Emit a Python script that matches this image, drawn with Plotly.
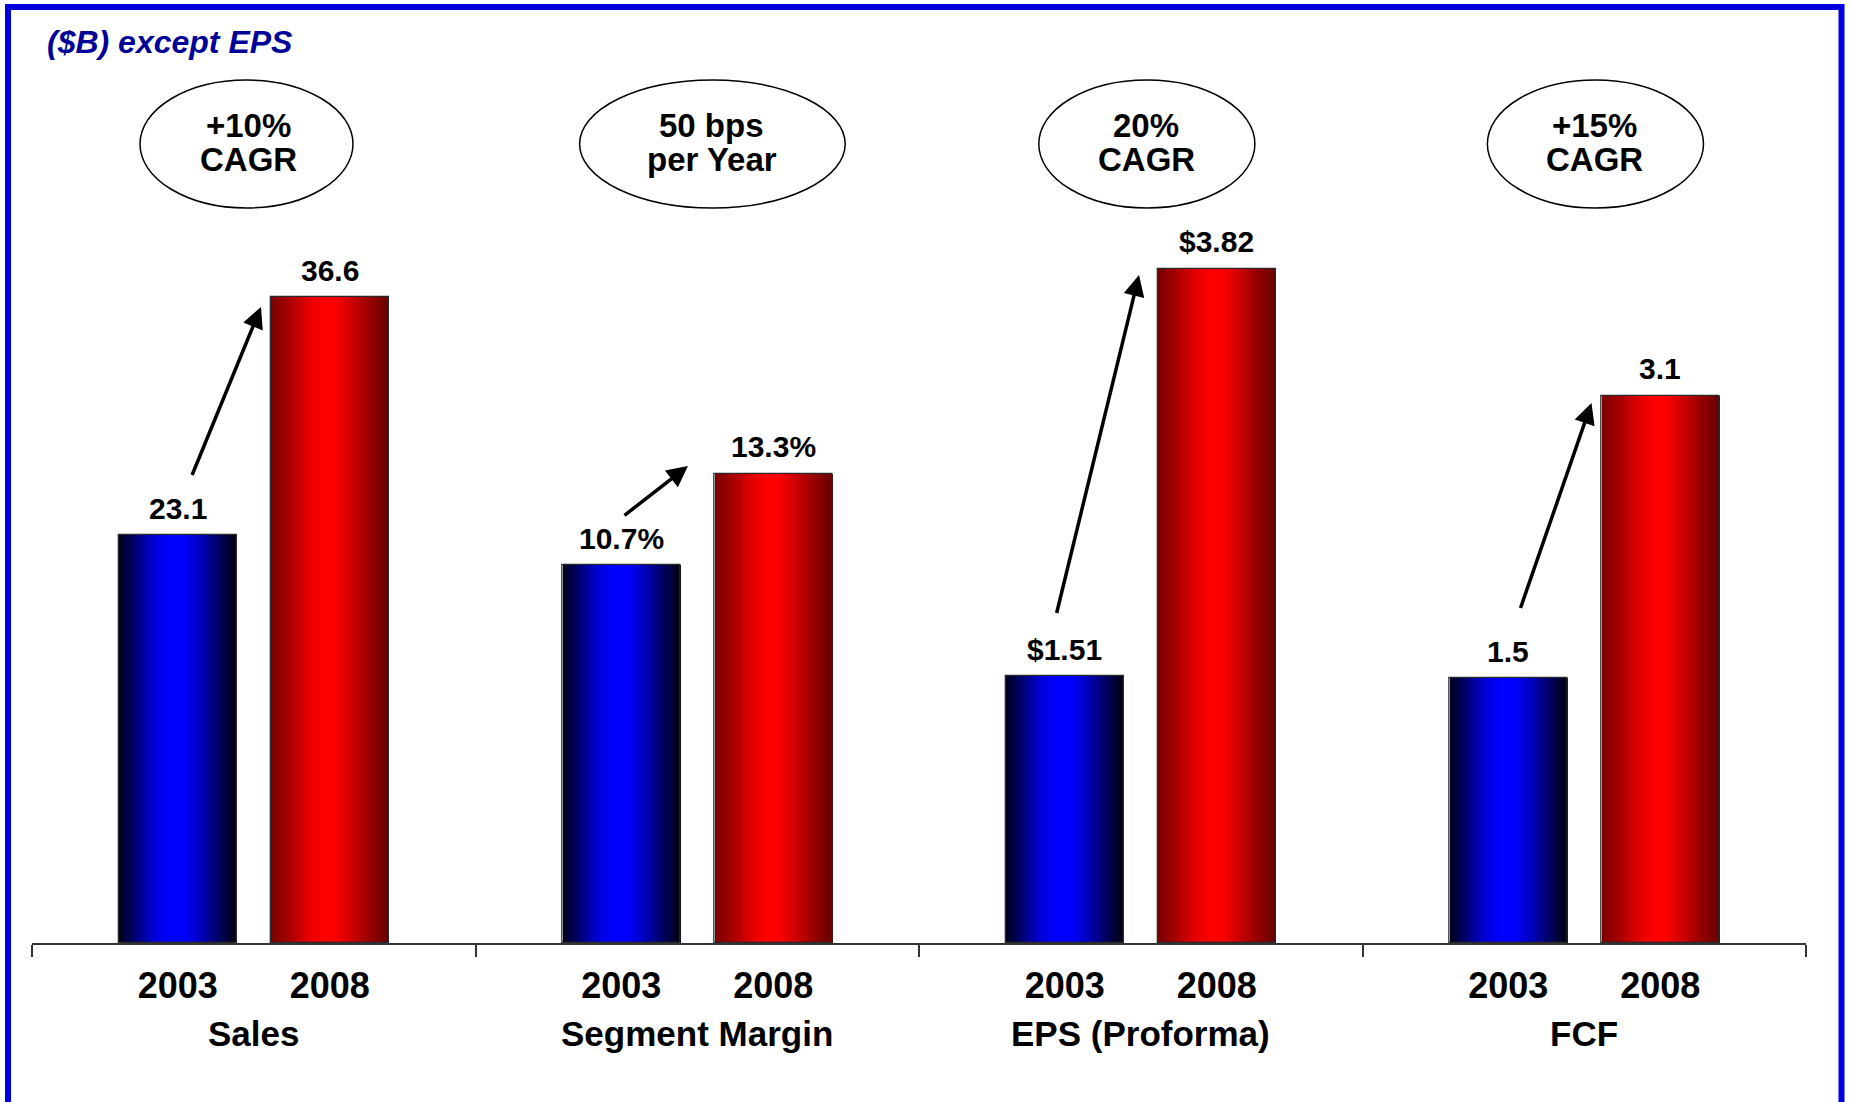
import plotly.graph_objects as go
from plotly.subplots import make_subplots

# ---------------- data ----------------
groups = ["Sales", "Segment Margin", "EPS (Proforma)", "FCF"]
years = ["2003", "2008"]
values_2003 = [23.1, 10.7, 1.51, 1.5]
values_2008 = [36.6, 13.3, 3.82, 3.1]
labels_2003 = ["23.1", "10.7%", "$1.51", "1.5"]
labels_2008 = ["36.6", "13.3%", "$3.82", "3.1"]
bubble_line1 = ["+10%", "50 bps", "20%", "+15%"]
bubble_line2 = ["CAGR", "per Year", "CAGR", "CAGR"]
y_max = [40, 20, 4, 4]
title_text = "($B) except EPS"

# ---------------- layout constants ----------------
W, H = 1851, 1102
ML, MR, MT, MB = 32, 45, 237, 159
PW, PH = W - ML - MR, H - MT - MB
FONT = "Liberation Sans, Arial, Helvetica, sans-serif"
X_RANGE = [-0.96, 1.96]
BAR_W = 0.777
N_STRIPES = 48


def px(xp):
    return (xp - ML) / PW


def py(yp):
    return (H - MB - yp) / PH


def interp(stops, t):
    for (t0, c0), (t1, c1) in zip(stops[:-1], stops[1:]):
        if t0 <= t <= t1:
            f = (t - t0) / (t1 - t0) if t1 > t0 else 0
            return tuple(int(round(a + (b - a) * f)) for a, b in zip(c0, c1))
    return stops[-1][1]


blue_stops = [(0.0, (0, 0, 25)), (0.15, (0, 0, 120)), (0.3, (0, 0, 215)),
              (0.42, (0, 0, 255)), (0.55, (0, 0, 255)), (0.7, (0, 0, 185)),
              (0.85, (0, 0, 95)), (1.0, (0, 0, 12))]
red_stops = [(0.0, (120, 0, 0)), (0.15, (165, 0, 0)), (0.3, (222, 0, 0)),
             (0.45, (255, 0, 0)), (0.55, (250, 0, 0)), (0.7, (200, 0, 0)),
             (0.85, (148, 0, 0)), (1.0, (100, 0, 0))]


def rgb(c):
    return "rgb(%d,%d,%d)" % c


fig = make_subplots(rows=1, cols=4, horizontal_spacing=0, shared_yaxes=False)

for g in range(4):
    col = g + 1
    vals = [values_2003[g], values_2008[g]]
    xs = [0, 1]
    for k in range(N_STRIPES):
        t = (k + 0.5) / N_STRIPES
        left = -BAR_W / 2 + k * BAR_W / N_STRIPES
        fig.add_trace(go.Bar(
            x=xs, y=vals,
            width=BAR_W - k * BAR_W / N_STRIPES,
            offset=left,
            marker=dict(color=[rgb(interp(blue_stops, t)), rgb(interp(red_stops, t))],
                        line=dict(width=0)),
            showlegend=False, hoverinfo="skip",
        ), row=1, col=col)
    # outline
    fig.add_trace(go.Bar(
        x=xs, y=vals, width=BAR_W, offset=-BAR_W / 2,
        marker=dict(color="rgba(0,0,0,0)", line=dict(color="#2a2a2a", width=1.3)),
        showlegend=False, hovertemplate="%{y}<extra></extra>",
    ), row=1, col=col)

    xa = "xaxis" if g == 0 else "xaxis%d" % col
    ya = "yaxis" if g == 0 else "yaxis%d" % col
    fig.layout[xa].update(
        range=X_RANGE, tickmode="array", tickvals=[0, 1], ticktext=years,
        ticks="", showline=True, linecolor="#333333", linewidth=1.5,
        showgrid=False, zeroline=False, ticklabelstandoff=10,
        tickfont=dict(family=FONT, size=36, color="black", weight="bold"),
        minor=dict(tickmode="array", tickvals=[X_RANGE[0], X_RANGE[1]],
                   ticks="outside", ticklen=12, tickcolor="#333333", tickwidth=1.5),
        fixedrange=True,
    )
    fig.layout[ya].update(range=[0, y_max[g]], visible=False, fixedrange=True)

annotations = []
shapes = []
for g in range(4):
    col = g + 1
    xref = "x" if g == 0 else "x%d" % col
    yref = "y" if g == 0 else "y%d" % col
    for xv, v, lab in [(0, values_2003[g], labels_2003[g]), (1, values_2008[g], labels_2008[g])]:
        annotations.append(dict(
            x=xv, y=v, xref=xref, yref=yref, text=lab, showarrow=False,
            yanchor="middle", xanchor="center", yshift=27,
            font=dict(family=FONT, size=30, color="black", weight="bold")))
    # category name
    annotations.append(dict(
        x=0.5, y=0, xref=xref + " domain", yref="paper", text=groups[g],
        showarrow=False, yanchor="middle", xanchor="center", yshift=-90,
        font=dict(family=FONT, size=35, color="black", weight="bold")))

# bubbles (ellipses with growth text)
ellipse_x = [(140, 353), (579.6, 845.2), (1038.8, 1254.9), (1487.4, 1703.5)]
ellipse_y = (80, 208)
bubble_cx = [248, 711.8, 1146.3, 1594.9]
line_y = (125, 159.5)
for g in range(4):
    shapes.append(dict(type="circle", xref="paper", yref="paper",
                       x0=px(ellipse_x[g][0]), x1=px(ellipse_x[g][1]),
                       y0=py(ellipse_y[1]), y1=py(ellipse_y[0]),
                       line=dict(color="black", width=1.5), fillcolor="rgba(0,0,0,0)"))
    for txt, ly in [(bubble_line1[g], line_y[0]), (bubble_line2[g], line_y[1])]:
        annotations.append(dict(
            x=px(bubble_cx[g]), y=py(ly), xref="paper", yref="paper", text=txt,
            showarrow=False, xanchor="center", yanchor="middle",
            font=dict(family=FONT, size=33, color="black", weight="bold")))

# arrows (tail -> head), pixel positions
arrows = [((191.5, 476.5), (261, 307)),
          ((623, 516.5), (688, 466)),
          ((1056.3, 614.5), (1139, 275)),
          ((1520, 609.5), (1591.5, 403))]
for (tx, ty), (hx, hy) in arrows:
    annotations.append(dict(
        x=px(hx), y=py(hy), xref="paper", yref="paper", text="",
        showarrow=True, ax=tx - hx, ay=ty - hy, axref="pixel", ayref="pixel",
        arrowhead=2, arrowsize=1.2, arrowwidth=3.5, arrowcolor="black"))

# title
annotations.append(dict(
    x=px(45), y=py(42), xref="paper", yref="paper", text="<i>" + title_text + "</i>",
    showarrow=False, xanchor="left", yanchor="middle",
    font=dict(family=FONT, size=32, color="#000099", weight="bold")))

# blue frame
shapes.append(dict(type="rect", xref="paper", yref="paper",
                   x0=px(8), x1=px(1841.5), y0=py(1130), y1=py(7),
                   line=dict(color="#0000DD", width=6), fillcolor="rgba(0,0,0,0)",
                   layer="above"))

fig.update_layout(
    width=W, height=H,
    margin=dict(l=ML, r=MR, t=MT, b=MB, pad=0),
    paper_bgcolor="white", plot_bgcolor="white",
    barmode="overlay", bargap=0,
    showlegend=False,
    annotations=annotations, shapes=shapes,
    font=dict(family=FONT),
)

fig.write_html("out.html")
